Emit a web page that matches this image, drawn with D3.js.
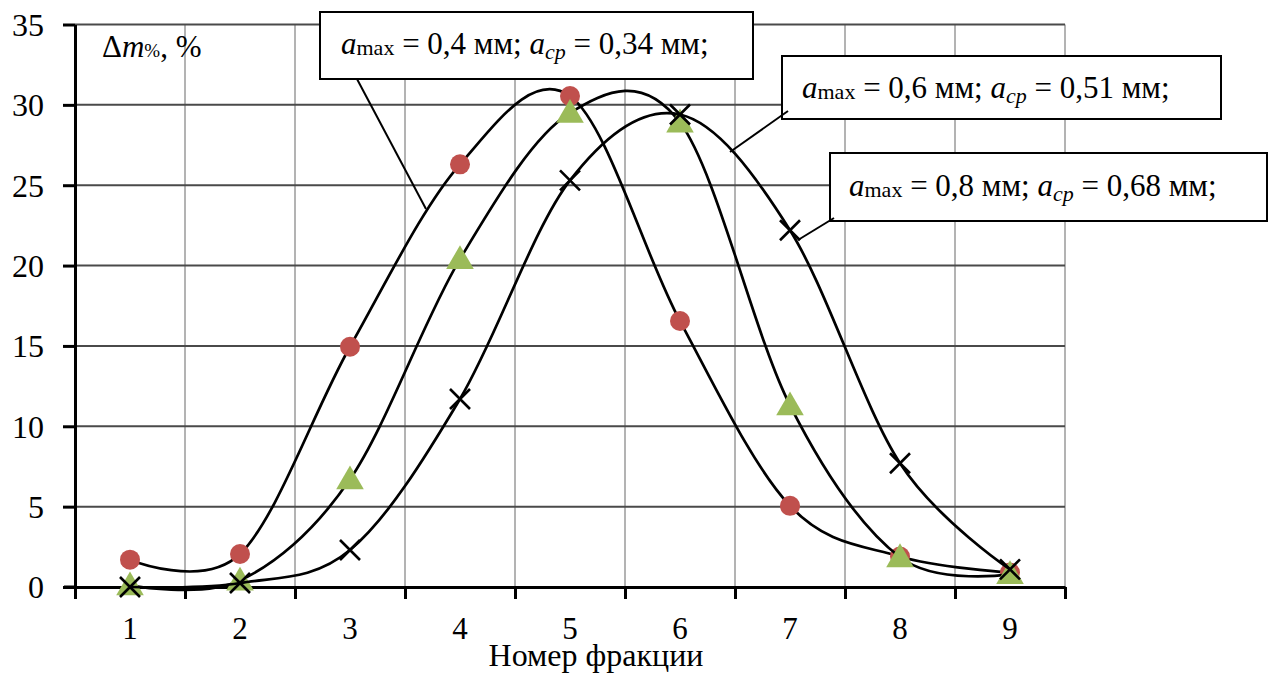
<!DOCTYPE html>
<html>
<head>
<meta charset="utf-8">
<script src="https://cdn.jsdelivr.net/npm/d3@7"></script>
<style>
  html, body { margin: 0; padding: 0; background: #fff; }
  svg { display: block; }
  text { font-family: "Liberation Serif", "Times New Roman", serif; fill: #000; }
</style>
</head>
<body>
<svg id="chart" width="1270" height="673"></svg>
<script>
// ---- data ----
const categories = [1, 2, 3, 4, 5, 6, 7, 8, 9];
const seriesRed   = [1.7, 2.05, 14.95, 26.3, 30.55, 16.55, 5.05, 1.9, 0.9];   // a_max = 0,4 мм
const seriesGreen = [0.1, 0.4, 6.7, 20.4, 29.5, 28.9, 11.3, 1.85, 0.8];     // a_max = 0,6 мм
const seriesCross = [0.0, 0.25, 2.3, 11.7, 25.3, 29.4, 22.2, 7.7, 1.1];     // a_max = 0,8 мм
const yTicks = [0, 5, 10, 15, 20, 25, 30, 35];
const amaxLabels = ["0,4", "0,6", "0,8"];
const acpLabels  = ["0,34", "0,51", "0,68"];
const xTitle = "Номер фракции";

// ---- layout ----
const svg = d3.select("#chart");
const pLeft = 75, pRight = 1065, pTop = 24.5, pBottom = 587;
const x = d3.scaleLinear().domain([0.5, 9.5]).range([pLeft, pRight]);
const y = d3.scaleLinear().domain([0, 35]).range([pBottom, pTop]);

// grid
const vGrid = d3.range(1.5, 9.51, 1);
svg.append("g").selectAll("line").data(vGrid).join("line")
  .attr("x1", d => x(d)).attr("x2", d => x(d))
  .attr("y1", y(35)).attr("y2", y(0))
  .attr("stroke", "#a6a6a6").attr("stroke-width", 1.7);
svg.append("g").selectAll("line").data(yTicks.filter(d => d > 0)).join("line")
  .attr("x1", pLeft).attr("x2", pRight)
  .attr("y1", d => y(d)).attr("y2", d => y(d))
  .attr("stroke", "#4a4a4a").attr("stroke-width", 2);

// axes
const yAxis = svg.append("g").attr("transform", `translate(${pLeft},0)`)
  .call(d3.axisLeft(y).tickValues(yTicks).tickSize(12).tickSizeOuter(0).tickFormat(d3.format("d")));
yAxis.select(".domain").attr("stroke", "#000").attr("stroke-width", 3);
yAxis.selectAll(".tick line").attr("stroke", "#000").attr("stroke-width", 3);
yAxis.selectAll(".tick text")
  .attr("x", -31).attr("dy", "0.34em")
  .style("font-size", "32px").style("font-family", "Liberation Serif");

const xAxis = svg.append("g").attr("transform", `translate(0,${pBottom})`)
  .call(d3.axisBottom(x).tickValues(d3.range(0.5, 9.51, 1)).tickSize(12).tickSizeOuter(0).tickFormat(""));
xAxis.select(".domain").attr("stroke", "#000").attr("stroke-width", 3);
xAxis.selectAll(".tick line").attr("stroke", "#000").attr("stroke-width", 3);
svg.append("line").attr("x1", pLeft - 11).attr("x2", pLeft).attr("y1", pBottom).attr("y2", pBottom)
  .attr("stroke", "#000").attr("stroke-width", 3);

svg.append("g").selectAll("text").data(categories).join("text")
  .attr("x", d => x(d)).attr("y", 639)
  .attr("text-anchor", "middle").style("font-size", "31px")
  .text(d => d);

// x title
svg.append("text").attr("x", 596).attr("y", 666).attr("text-anchor", "middle")
  .style("font-size", "32px").text(xTitle);

// y label
const yl = svg.append("text").attr("x", 102).attr("y", 57).style("font-size", "31px");
yl.append("tspan").text("Δ");
yl.append("tspan").style("font-style", "italic").text("m");
yl.append("tspan").style("font-size", "19px").text("%");
yl.append("tspan").text(", %");

// ---- series ----
const line = d3.line()
  .x((d, i) => x(categories[i]))
  .y(d => y(d))
  .curve(d3.curveCardinal.tension(0));

function drawLine(vals) {
  svg.append("path").datum(vals).attr("d", line)
    .attr("fill", "none").attr("stroke", "#000").attr("stroke-width", 2.7);
}

// red circles
drawLine(seriesRed);
svg.append("g").selectAll("circle").data(seriesRed).join("circle")
  .attr("cx", (d, i) => x(categories[i])).attr("cy", d => y(d)).attr("r", 10)
  .attr("fill", "#c0504d");

// green triangles
drawLine(seriesGreen);
const tri = d3.symbol().type(d3.symbolTriangle).size(330);
svg.append("g").selectAll("path").data(seriesGreen).join("path")
  .attr("transform", (d, i) => `translate(${x(categories[i])},${y(d) + 2})`)
  .attr("d", tri).attr("fill", "#9bbb59");

// crosses
drawLine(seriesCross);
const cs = 10;
svg.append("g").selectAll("path").data(seriesCross).join("path")
  .attr("d", (d, i) => {
    const cx = x(categories[i]), cy = y(d);
    return `M${cx - cs},${cy - cs}L${cx + cs},${cy + cs}M${cx - cs},${cy + cs}L${cx + cs},${cy - cs}`;
  })
  .attr("stroke", "#000").attr("stroke-width", 2.6).attr("fill", "none");

// ---- annotation boxes ----
const boxes = [
  { x: 320, y: 12, w: 433, h: 67, tx: 341, ty: 54, lx1: 357, ly1: 79, lx2: 426, ly2: 209 },
  { x: 782, y: 56, w: 439, h: 63, tx: 802, ty: 98, lx1: 788, ly1: 111, lx2: 730, ly2: 152 },
  { x: 830, y: 153, w: 437, h: 68, tx: 849, ty: 196, lx1: 834, ly1: 218, lx2: 798, ly2: 240 }
];
boxes.forEach((b, i) => {
  svg.append("rect").attr("x", b.x).attr("y", b.y).attr("width", b.w).attr("height", b.h)
    .attr("fill", "#fff").attr("stroke", "#000").attr("stroke-width", 2);
  svg.append("line").attr("x1", b.lx1).attr("y1", b.ly1).attr("x2", b.lx2).attr("y2", b.ly2)
    .attr("stroke", "#000").attr("stroke-width", 2);
  const t = svg.append("text").attr("x", b.tx).attr("y", b.ty).style("font-size", "31px");
  t.append("tspan").style("font-style", "italic").text("a");
  t.append("tspan").style("font-size", "22px").attr("dy", 1).text("max");
  t.append("tspan").attr("dy", -1).text(" = " + amaxLabels[i] + " мм; ");
  t.append("tspan").style("font-style", "italic").text("a");
  t.append("tspan").style("font-style", "italic").style("font-size", "22px").attr("dy", 5).text("cp");
  t.append("tspan").attr("dy", -5).text(" = " + acpLabels[i] + " мм;");
});
</script>
</body>
</html>
